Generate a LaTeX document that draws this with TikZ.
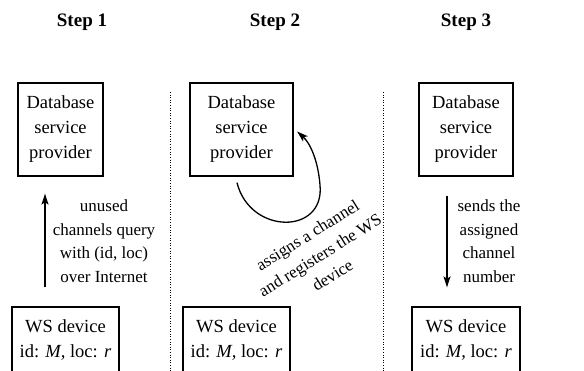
\documentclass[tikz,border=0pt]{standalone}
\usepackage{fontspec}
\setmainfont{Liberation Serif}
\usetikzlibrary{arrows.meta}
\begin{document}
\begin{tikzpicture}[x=1pt,y=-1pt,
  boxnode/.style={draw,line width=1.3pt,align=center,inner sep=0pt,
    font=\fontsize{18.5}{25}\selectfont},
  title/.style={font=\fontsize{19}{22}\selectfont\bfseries},
  lbl/.style={align=center,inner sep=0pt,font=\fontsize{17}{23.5}\selectfont},
  arr/.style={line width=1.3pt,-{Stealth[length=11pt,width=7pt,inset=2.5pt]}},
  sep/.style={dotted,line width=0.6pt}]
\useasboundingbox (0,0) rectangle (584,370);
% titles
\node[title] (t1) at (82,22) {Step 1};
\node[title] (t2) at (275,22) {Step 2};
\node[title] (t3) at (466,22) {Step 3};
% separators
\coordinate (s1a) at (170,92); \coordinate (s1b) at (170,372);
\coordinate (s2a) at (383,92); \coordinate (s2b) at (383,372);
\draw[sep] (s1a) -- (s1b);
\draw[sep] (s2a) -- (s2b);
% database boxes
\node[boxnode,minimum width=85pt,minimum height=93pt] (db1) at (60.5,129.5) {Database\\service\\provider};
\node[boxnode,minimum width=103pt,minimum height=93pt] (db2) at (241.5,129.5) {Database\\service\\provider};
\node[boxnode,minimum width=94pt,minimum height=93pt] (db3) at (466,129.5) {Database\\service\\provider};
% device boxes
\node[boxnode,minimum width=107pt,minimum height=66pt] (ws1) at (65.5,340) {WS device\\id: \textit{M,} loc: \textit{r}};
\node[boxnode,minimum width=107pt,minimum height=66pt] (ws2) at (236.5,340) {WS device\\id: \textit{M,} loc: \textit{r}};
\node[boxnode,minimum width=108pt,minimum height=66pt] (ws3) at (466,340) {WS device\\id: \textit{M,} loc: \textit{r}};
% step 1
\draw[arr] ([xshift=-20.5pt,yshift=19pt]ws1.north) -- ([xshift=-15.5pt,yshift=-17pt]db1.south);
\node[lbl] (l1) at (104,241) {unused\\channels query\\with (id, loc)\\over Internet};
% step 2
\draw[arr] ([xshift=-4.5pt,yshift=-6pt]db2.south) .. controls (250,235) and (325,235) .. (320,185)
  .. controls (318,160) and (310,143) .. ([xshift=3.5pt,yshift=-2pt]db2.east);
\node[lbl,rotate=32] (l2) at (320,255) {assigns a channel\\and registers the WS\\device};
% step 3
\draw[arr] ([xshift=-19pt,yshift=-19pt]db3.south) -- ([xshift=-19pt,yshift=19pt]ws3.north);
\node[lbl] (l3) at (489,241) {sends the\\assigned\\channel\\number};
\end{tikzpicture}
\end{document}
